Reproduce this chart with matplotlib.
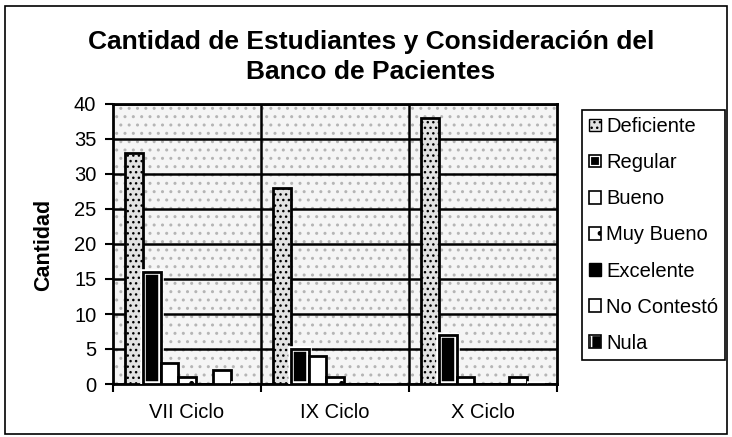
import matplotlib
import matplotlib.pyplot as plt
import numpy as np
from matplotlib.patches import Patch, Rectangle
from matplotlib.legend_handler import HandlerTuple

matplotlib.use("Agg")

plt.rcParams["font.family"] = ["Liberation Sans", "DejaVu Sans"]
plt.rcParams["hatch.linewidth"] = 1.0

categories = ["VII Ciclo", "IX Ciclo", "X Ciclo"]
series_names = ["Deficiente", "Regular", "Bueno", "Muy Bueno",
                "Excelente", "No Contestó", "Nula"]
deficiente = [33, 28, 38]
regular = [16, 5, 7]
bueno = [3, 4, 1]
muy_bueno = [1, 1, 0]
excelente = [0, 0, 0]
no_contesto = [2, 0, 1]
nula = [0, 0, 0]
series_values = [deficiente, regular, bueno, muy_bueno,
                 excelente, no_contesto, nula]
y_ticks = [0, 5, 10, 15, 20, 25, 30, 35, 40]

W, H = 732, 437
fig = plt.figure(figsize=(W / 100, H / 100), dpi=100)
ax = fig.add_axes([113 / W, (H - 384) / H, (557 - 113) / W, (384 - 104) / H])

# stippled background
ax.set_facecolor("#f5f5f5")
ax.add_patch(Rectangle((0, 0), 1, 1, transform=ax.transAxes, fill=False,
                       hatch="..", edgecolor="#b5b5b5", lw=0, zorder=0))

x = np.arange(len(categories))
w = 0.119
edge = dict(edgecolor="black", linewidth=2, zorder=3)

for j, (name, vals) in enumerate(zip(series_names, series_values)):
    pos = x + (j - 3) * w
    if name == "Deficiente":
        ax.bar(pos, vals, w, facecolor="#e2e2e2", hatch="...", **edge)
    elif name in ("Regular", "Nula"):
        ax.bar(pos, vals, w, facecolor="black", edgecolor="white",
               linewidth=4, zorder=3)
        ax.bar(pos, vals, w, fill=False, **edge)
    elif name == "Excelente":
        ax.bar(pos, vals, w, facecolor="black", **edge)
    elif name == "Muy Bueno":
        ax.bar(pos, vals, w, facecolor="white", hatch=".", **edge)
    else:
        ax.bar(pos, vals, w, facecolor="white", **edge)

ax.set_ylim(0, 40)
ax.set_xlim(-0.5, len(categories) - 0.5)
ax.set_yticks(y_ticks)
ax.set_yticklabels([str(t) for t in y_ticks], fontsize=14.5)
ax.grid(axis="y", color="black", linewidth=1.8, zorder=1)
ax.set_axisbelow(True)
for b in x[:-1] + 0.5:
    ax.axvline(b, color="black", linewidth=1.8, zorder=1)

ax.set_xticks(np.arange(len(categories) + 1) - 0.5)
ax.set_xticklabels([])
ax.set_xticks(x, minor=True)
ax.set_xticklabels(categories, minor=True, fontsize=14.5)
ax.tick_params(axis="x", which="minor", length=0, pad=14)
ax.tick_params(axis="x", which="major", length=6, width=1.5, direction="out")
ax.tick_params(axis="y", length=6, width=1.5, direction="out", pad=6)
for s in ax.spines.values():
    s.set_linewidth(2)
    s.set_color("black")

fig.text(44 / W, 1 - 245 / H, "Cantidad", rotation=90, fontsize=15.5,
         fontweight="bold", ha="center", va="center")
fig.text(371 / W, 1 - 42 / H, "Cantidad de Estudiantes y Consideración del",
         fontsize=19, fontweight="bold", ha="center", va="center")
fig.text(371 / W, 1 - 72 / H, "Banco de Pacientes",
         fontsize=19, fontweight="bold", ha="center", va="center")

outline = Patch(fill=False, edgecolor="black", linewidth=1.2)
handles = [
    (Patch(facecolor="#e2e2e2", hatch="...", edgecolor="black"),),
    (Patch(facecolor="black", edgecolor="white", linewidth=3), outline),
    (Patch(facecolor="white", edgecolor="black", linewidth=1.2),),
    (Patch(facecolor="white", hatch=".", edgecolor="black", linewidth=1.2),),
    (Patch(facecolor="black", edgecolor="black"),),
    (Patch(facecolor="white", edgecolor="black", linewidth=1.2),),
    (Patch(facecolor="black", edgecolor="white", hatch="|"), outline),
]
leg = fig.legend(handles, series_names, loc="upper left",
                 bbox_to_anchor=(582 / W, 1 - 110 / H), borderaxespad=0,
                 handler_map={tuple: HandlerTuple(ndivide=1, pad=0)},
                 fontsize=14.5, frameon=True, fancybox=False,
                 edgecolor="black", framealpha=1, borderpad=0.35,
                 handlelength=0.6, handleheight=0.6, handletextpad=0.25,
                 labelspacing=0.85)
leg.get_frame().set_linewidth(1.2)

# outer chart border
fig.patches.append(Rectangle((5 / W, 3 / H), 722 / W, 428 / H,
                             transform=fig.transFigure, fill=False,
                             edgecolor="black", linewidth=1.2))

fig.savefig("out.png", dpi=100)
